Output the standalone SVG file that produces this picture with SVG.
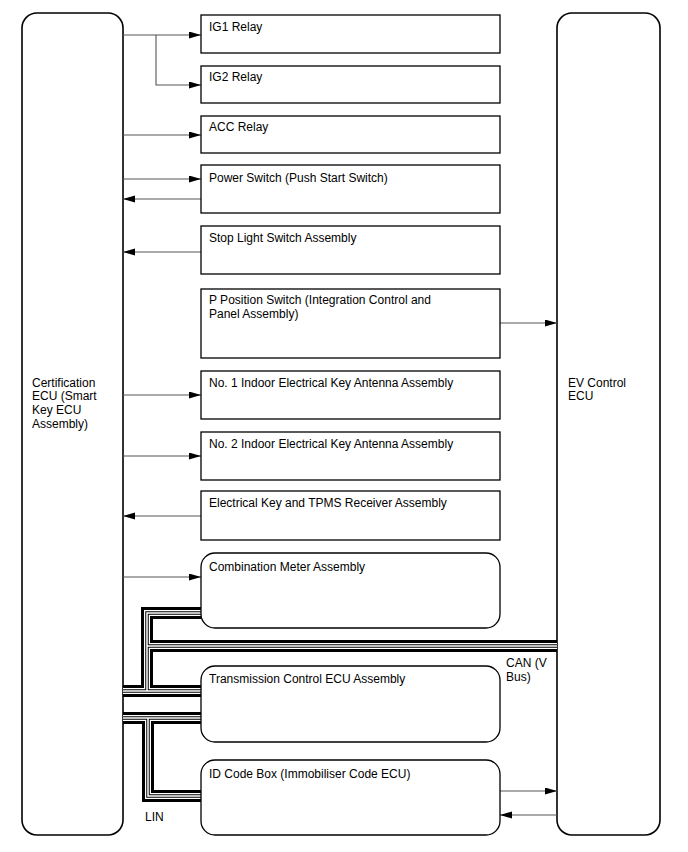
<svg xmlns="http://www.w3.org/2000/svg" xmlns:xlink="http://www.w3.org/1999/xlink" width="688" height="852" viewBox="0 0 688 852">
<style>
.box{fill:#fff;stroke:#000;stroke-width:1.3}
.ecu{fill:#fff;stroke:#000;stroke-width:1.6}
.t{font-family:"Liberation Sans",Arial,sans-serif;font-size:12px;fill:#000}
.w{fill:none;stroke:#555;stroke-width:1.1}
.b1{fill:none;stroke:#000;stroke-width:12;stroke-linejoin:miter}
.b2{fill:none;stroke:#fff;stroke-width:6;stroke-linejoin:miter}
.b3{fill:none;stroke:#000;stroke-width:3.5;stroke-linejoin:miter}
.b4{fill:none;stroke:#fff;stroke-width:1.5;stroke-linejoin:miter}
</style>
<defs>
<marker id="ah" markerUnits="userSpaceOnUse" markerWidth="13" markerHeight="8" refX="12" refY="3.5" orient="auto">
<path d="M0,0 L12,3.5 L0,7 z" fill="#000"/>
</marker>
<path id="can" d="M201,613 H147 V691 M123,691 H201 M147,646 H557"/>
<path id="lin" d="M123,718 H201 M148,718 V796 H201"/>
</defs>
<g id="cert-ecu">
<rect class="ecu" x="22" y="13" width="101" height="822" rx="15"/>
<text class="t" x="32" y="387">Certification</text>
<text class="t" x="32" y="400">ECU (Smart</text>
<text class="t" x="32" y="414">Key ECU</text>
<text class="t" x="32" y="428">Assembly)</text>
</g>
<g id="ev-ecu">
<rect class="ecu" x="557" y="13" width="103" height="822" rx="15"/>
<text class="t" x="568" y="387">EV Control</text>
<text class="t" x="568" y="400">ECU</text>
</g>
<g id="connectors">
<path class="w" d="M123,35 H201" marker-end="url(#ah)"/>
<path class="w" d="M156,35 V85 H201" marker-end="url(#ah)"/>
<path class="w" d="M123,135 H201" marker-end="url(#ah)"/>
<path class="w" d="M123,179 H201" marker-end="url(#ah)"/>
<path class="w" d="M201,199 H123" marker-end="url(#ah)"/>
<path class="w" d="M201,252 H123" marker-end="url(#ah)"/>
<path class="w" d="M500,323 H557" marker-end="url(#ah)"/>
<path class="w" d="M123,395 H201" marker-end="url(#ah)"/>
<path class="w" d="M123,456 H201" marker-end="url(#ah)"/>
<path class="w" d="M201,516 H123" marker-end="url(#ah)"/>
<path class="w" d="M123,577 H201" marker-end="url(#ah)"/>
<path class="w" d="M500,791 H557" marker-end="url(#ah)"/>
<path class="w" d="M557,815 H500" marker-end="url(#ah)"/>
<g id="can-bus">
<use href="#can" xlink:href="#can" class="b1"/>
<use href="#can" xlink:href="#can" class="b2"/>
<use href="#can" xlink:href="#can" class="b3"/>
<use href="#can" xlink:href="#can" class="b4"/>
</g>
<g id="lin-bus">
<use href="#lin" xlink:href="#lin" class="b1"/>
<use href="#lin" xlink:href="#lin" class="b2"/>
<use href="#lin" xlink:href="#lin" class="b3"/>
<use href="#lin" xlink:href="#lin" class="b4"/>
</g>
<text class="t" x="506" y="667">CAN (V</text>
<text class="t" x="506" y="681">Bus)</text>
<text class="t" x="145" y="821">LIN</text>
</g>
<g id="ig1-relay"><rect class="box" x="201" y="15" width="299" height="38"/><text class="t" x="209" y="31">IG1 Relay</text></g>
<g id="ig2-relay"><rect class="box" x="201" y="66" width="299" height="37"/><text class="t" x="209" y="81">IG2 Relay</text></g>
<g id="acc-relay"><rect class="box" x="201" y="116" width="299" height="37"/><text class="t" x="209" y="131">ACC Relay</text></g>
<g id="power-switch"><rect class="box" x="201" y="165" width="299" height="48"/><text class="t" x="209" y="182">Power Switch (Push Start Switch)</text></g>
<g id="stop-light"><rect class="box" x="201" y="226" width="299" height="48"/><text class="t" x="209" y="242">Stop Light Switch Assembly</text></g>
<g id="p-position"><rect class="box" x="201" y="289" width="299" height="69"/><text class="t" x="209" y="304">P Position Switch (Integration Control and</text><text class="t" x="209" y="318">Panel Assembly)</text></g>
<g id="antenna1"><rect class="box" x="201" y="371" width="299" height="48"/><text class="t" x="209" y="387">No. 1 Indoor Electrical Key Antenna Assembly</text></g>
<g id="antenna2"><rect class="box" x="201" y="432" width="299" height="48"/><text class="t" x="209" y="448">No. 2 Indoor Electrical Key Antenna Assembly</text></g>
<g id="tpms"><rect class="box" x="201" y="491" width="299" height="49"/><text class="t" x="209" y="507">Electrical Key and TPMS Receiver Assembly</text></g>
<g id="combination-meter"><rect class="box" x="201" y="553" width="299" height="75" rx="14"/><text class="t" x="209" y="571">Combination Meter Assembly</text></g>
<g id="transmission-ecu"><rect class="box" x="201" y="666" width="299" height="76" rx="14"/><text class="t" x="209" y="683">Transmission Control ECU Assembly</text></g>
<g id="id-code-box"><rect class="box" x="201" y="760" width="299" height="75" rx="14"/><text class="t" x="209" y="778">ID Code Box (Immobiliser Code ECU)</text></g>
</svg>
